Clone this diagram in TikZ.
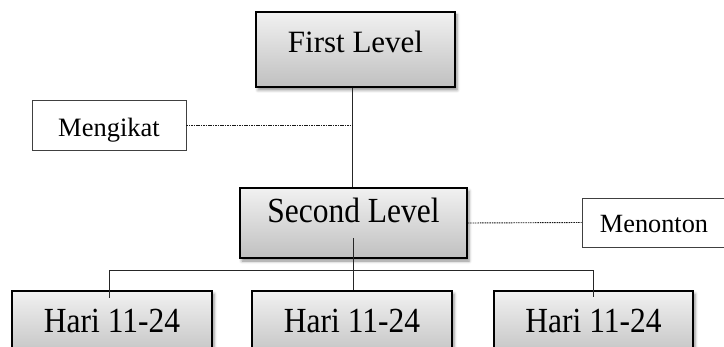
\documentclass[tikz,border=0pt]{standalone}
\usepackage{fontspec}
\setmainfont{Liberation Serif}
\usetikzlibrary{shadows.blur}
\definecolor{boxtop}{RGB}{241,241,241}
\definecolor{boxbot}{RGB}{192,192,192}
\begin{document}
\begin{tikzpicture}[x=1pt,y=-1pt,
  levelbox/.style={draw=black, line width=1.5pt, top color=boxtop, bottom color=boxbot,
    inner sep=0pt, blur shadow={shadow xshift=2pt, shadow yshift=-3pt, shadow opacity=45, shadow blur radius=3pt}},
  labelbox/.style={draw=black!75, line width=0.8pt, fill=white, inner sep=0pt},
  conn/.style={line width=0.8pt, draw=black!85},
  dotconn/.style={line width=0.9pt, draw=black!90, dash pattern=on 1.5pt off 0.9pt}
]
\useasboundingbox (0,0) rectangle (724,347);
\clip (0,0) rectangle (724,347);

\node[levelbox, minimum width=199pt, minimum height=75pt, text height=22pt, text depth=16.4pt,
  font=\fontsize{31}{36}\selectfont] (first) at (355.5,49.5) {First Level};
\node[labelbox, minimum width=154pt, minimum height=50pt, text height=22pt, text depth=0pt,
  font=\fontsize{26.5}{30}\selectfont] (mengikat) at (109,125.5) {Mengikat};
\node[levelbox, minimum width=227pt, minimum height=70pt, text height=20pt, text depth=20pt,
  font=\fontsize{31.5}{36}\selectfont] (second) at (353.5,223) {\scalebox{1}[1.12]{Second Level}};
\node[labelbox, minimum width=144pt, minimum height=49pt, text height=21pt, text depth=0pt,
  font=\fontsize{26.3}{30}\selectfont] (menonton) at (654,222.5) {Menonton};

\node[levelbox, minimum width=200pt, minimum height=70pt, text height=24pt, text depth=10pt,
  font=\fontsize{31.5}{36}\selectfont] (h1) at (112,326) {\scalebox{1}[1.12]{Hari 11-24}};
\node[levelbox, minimum width=200pt, minimum height=70pt, text height=24pt, text depth=10pt,
  font=\fontsize{31.5}{36}\selectfont] (h2) at (352,326) {\scalebox{1}[1.12]{Hari 11-24}};
\node[levelbox, minimum width=199pt, minimum height=70pt, text height=24pt, text depth=10pt,
  font=\fontsize{31.5}{36}\selectfont] (h3) at (593.5,326) {\scalebox{1}[1.12]{Hari 11-24}};

\coordinate (spine) at (352.7,0);
\coordinate (busy) at (0,270);
\coordinate (b1) at (109,298);
\coordinate (b3) at (593,297);

\draw[conn] (first.south -| spine) -- (second.north -| spine);
\draw[dotconn] (mengikat.east) -- (mengikat.east -| spine);
\draw[dotconn] (second.east) -- (menonton.west);
\draw[conn] ([yshift=-15pt]second.center) -- (h2.north -| second.center);
\draw[conn] (b1) -- (b1 |- busy) -- (b3 |- busy) -- (b3);
\end{tikzpicture}
\end{document}
